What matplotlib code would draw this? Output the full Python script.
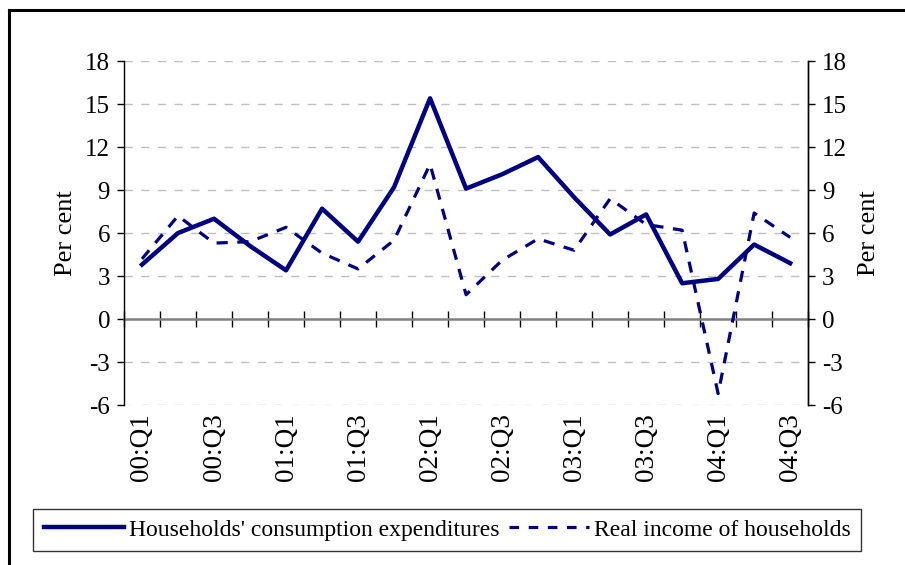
import matplotlib
matplotlib.use('Agg')
import matplotlib.pyplot as plt
from matplotlib.lines import Line2D

plt.rcParams['font.family'] = 'Liberation Serif'
plt.rcParams['font.size'] = 18
plt.rcParams['axes.unicode_minus'] = False

quarters = ['00:Q1', '00:Q2', '00:Q3', '00:Q4', '01:Q1', '01:Q2', '01:Q3', '01:Q4',
            '02:Q1', '02:Q2', '02:Q3', '02:Q4', '03:Q1', '03:Q2', '03:Q3', '03:Q4',
            '04:Q1', '04:Q2', '04:Q3']
consumption = [3.8, 6.0, 7.0, 5.1, 3.4, 7.7, 5.4, 9.2, 15.4, 9.1, 10.1, 11.3,
               8.5, 5.9, 7.3, 2.5, 2.8, 5.2, 3.9]
real_income = [4.2, 7.2, 5.3, 5.4, 6.4, 4.6, 3.5, 5.5, 10.8, 1.7, 4.1, 5.6,
               4.8, 8.4, 6.6, 6.2, -5.2, 7.4, 5.7]
yticks = [-6, -3, 0, 3, 6, 9, 12, 15, 18]

navy = '#000080'
x = list(range(len(quarters)))

fig = plt.figure(figsize=(9.05, 5.65), dpi=100)
ax = fig.add_axes([0.137, 0.283, 0.756, 0.609])

for v in yticks:
    if v != 0:
        ax.axhline(v, color='#c0c0c0', lw=1, ls=(0, (6, 6)), zorder=0)

ax.plot(x, real_income, color=navy, lw=2.3, ls=(0, (3.5, 3)), zorder=3,
        label='Real income of households')
ax.plot(x, consumption, color=navy, lw=3.2, zorder=4,
        label="Households' consumption expenditures")

ax.set_xlim(-0.5, len(quarters) - 0.5)
ax.set_ylim(-6, 18)
ax.set_yticks(yticks)
ax.set_ylabel('Per cent', labelpad=6, fontsize=19)

# category axis through zero with boundary ticks
ax.spines['top'].set_visible(False)
ax.spines['bottom'].set_position(('data', 0))
ax.spines['bottom'].set_color('#808080')
ax.spines['bottom'].set_linewidth(1.8)
ax.spines['bottom'].set_zorder(2)
ax.set_xticks([])
ax.set_xticks([k - 0.5 for k in range(len(quarters) + 1)], minor=True)
ax.tick_params(axis='x', which='minor', direction='inout', length=12, width=1,
               color='black', labelbottom=False)
ax.spines['left'].set_linewidth(1)
ax.spines['right'].set_linewidth(1)
ax.tick_params(axis='y', direction='out', length=5, width=1, pad=5)

sec = ax.secondary_xaxis('bottom')
sec.set_xticks(x[::2])
sec.set_xticklabels(quarters[::2], rotation=90, fontsize=19.5)
sec.tick_params(length=0, pad=6)
sec.spines['bottom'].set_visible(False)

ax2 = ax.twinx()
ax2.set_ylim(-6, 18)
ax2.set_yticks(yticks)
ax2.set_ylabel('Per cent', labelpad=8, fontsize=19)
ax2.tick_params(axis='y', direction='out', length=5, width=1, pad=5)
for s in ['top', 'bottom', 'left']:
    ax2.spines[s].set_visible(False)
ax2.spines['right'].set_linewidth(1)

handles = [Line2D([], [], color=navy, lw=3.2),
           Line2D([], [], color=navy, lw=2.3, ls=(0, (3, 3)))]
labels = ["Households' consumption expenditures", 'Real income of households']
leg = fig.legend(handles, labels, loc='center', bbox_to_anchor=(0.494, 0.062),
                 ncol=2, frameon=True, fancybox=False, edgecolor='black',
                 handlelength=3.4, handletextpad=0.2, columnspacing=0.4,
                 borderpad=0.45, fontsize=17)
leg.get_frame().set_linewidth(1)

# outer frame (left and top edges visible)
fig.add_artist(Line2D([9 / 905, 9 / 905], [0, 1 - 10 / 565], color='black', lw=2.2))
fig.add_artist(Line2D([9 / 905, 1], [1 - 10 / 565, 1 - 10 / 565], color='black', lw=2.2))

fig.savefig('out.png', dpi=100)
